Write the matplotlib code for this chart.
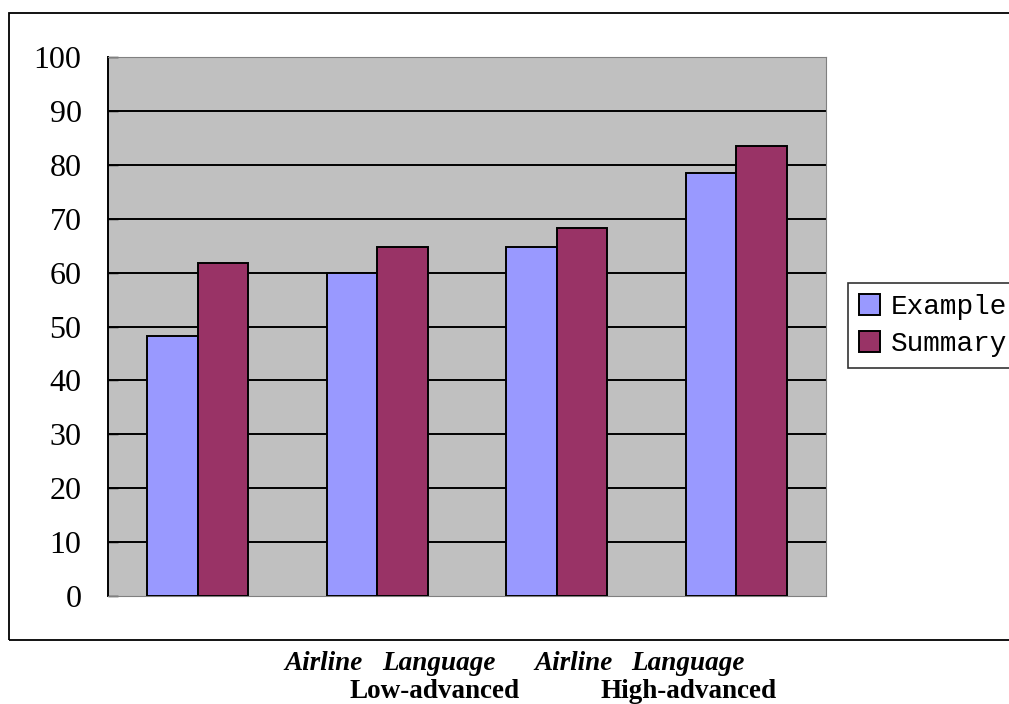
import matplotlib
matplotlib.use("Agg")
import matplotlib.pyplot as plt
from matplotlib.patches import Rectangle
import numpy as np

# Scores per group
groups = ["Airline (Low)", "Language (Low)", "Airline (High)", "Language (High)"]
example_scores = [48.2, 60.0, 64.8, 78.5]
summary_scores = [61.8, 64.8, 68.3, 83.5]
series_names = ["Example", "Summary"]
y_ticks = list(range(0, 101, 10))

# Labels printed under the chart frame
word_labels = ["Airline", "Language", "Airline", "Language"]
level_labels = ["Low-advanced", "High-advanced"]

fig = plt.figure(figsize=(10.09, 7.04), dpi=100)
W, H = 1009, 704

# Outer chart frame (runs past the right edge)
fig.patches.append(Rectangle((9 / W, 1 - 640 / H), 1.2, (640 - 13) / H,
                             transform=fig.transFigure, fill=False,
                             edgecolor="black", linewidth=1.3, zorder=0))

ax = fig.add_axes([108 / W, 1 - 596 / H, 718 / W, 539 / H])
ax.set_facecolor("#C0C0C0")

x = np.arange(len(groups))
bw = 0.281
ax.bar(x - bw / 2, example_scores, width=bw, color="#9999FF",
       edgecolor="black", linewidth=1.4, label=series_names[0], zorder=3)
ax.bar(x + bw / 2, summary_scores, width=bw, color="#993366",
       edgecolor="black", linewidth=1.4, label=series_names[1], zorder=3)

ax.set_xlim(-0.5, len(groups) - 0.5)
ax.set_ylim(0, 100)
ax.set_yticks(y_ticks)
ax.set_yticklabels([str(t) for t in y_ticks], fontfamily="Liberation Serif",
                   fontsize=23)
ax.tick_params(axis="y", direction="in", length=7, width=1.0, pad=19,
               colors="black")
ax.set_xticks([])
for t in y_ticks[1:]:
    ax.axhline(t, color="black", linewidth=1.4, zorder=1)

ax.spines["left"].set_color("black")
ax.spines["left"].set_linewidth(1.4)
for s in ("top", "right", "bottom"):
    ax.spines[s].set_color("#808080")
    ax.spines[s].set_linewidth(0.8)

leg = fig.legend(loc="upper left", bbox_to_anchor=(848 / W, 1 - 283 / H),
                 prop={"family": "Liberation Mono", "size": 20},
                 frameon=True, fancybox=False, shadow=False,
                 handlelength=0.75, handleheight=0.75, handletextpad=0.4,
                 borderpad=0.4, labelspacing=0.4, borderaxespad=0)
leg.get_frame().set_edgecolor("black")
leg.get_frame().set_linewidth(1.2)
for h in leg.legend_handles:
    h.set_edgecolor("black")
    h.set_linewidth(1.4)

# Two-level category captions
word_x = [284, 382, 534, 631]
for wx, w in zip(word_x, word_labels):
    fig.text(wx / W, 1 - 663 / H, w, ha="left", va="center",
             fontfamily="Liberation Serif", fontstyle="italic",
             fontweight="bold", fontsize=19.5)
level_x = [435, 689]
for lx, lbl in zip(level_x, level_labels):
    fig.text(lx / W, 1 - 692 / H, lbl, ha="center", va="center",
             fontfamily="Liberation Serif", fontweight="bold", fontsize=19.5)

fig.savefig("out.png", dpi=100)
